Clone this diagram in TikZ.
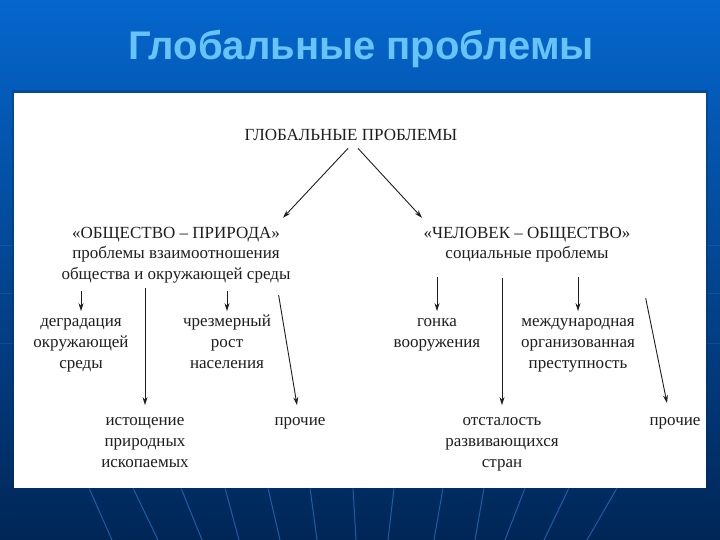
\documentclass[tikz,border=0pt]{standalone}
\usepackage{fontspec}
\setmainfont{Liberation Serif}
\newfontfamily\titlefont{Liberation Sans}
\usetikzlibrary{arrows.meta,calc}
\definecolor{bgtop}{RGB}{5,102,205}
\definecolor{bgmid}{RGB}{2,80,168}
\definecolor{bgbot}{RGB}{0,38,86}
\definecolor{titleblue}{RGB}{104,196,246}
\definecolor{titleshade}{RGB}{0,45,105}
\definecolor{fanline}{RGB}{45,115,195}
\definecolor{ink}{RGB}{30,30,30}
\newcommand{\stk}[1]{\begin{tabular}[t]{@{}c@{}}#1\end{tabular}}
\begin{document}
\begin{tikzpicture}[x=1pt,y=-1pt,
  txt/.style={font=\fontsize{17}{21}\selectfont, text=ink, inner sep=0pt, anchor=base},
  hd/.style={font=\fontsize{17}{20}\selectfont, text=ink, inner sep=0pt, anchor=base},
  arr/.style={draw=ink, line width=0.9pt, -{Stealth[length=8pt,width=5pt]}},
  fan/.style={draw=fanline, line width=1pt, opacity=0.7}]
\useasboundingbox (0,0) rectangle (720,540);
% background
\shade[top color=bgtop, middle color=bgmid, bottom color=bgbot] (0,0) rectangle (720,540);
\foreach \a/\b in {89/112,133/158,181/202,225/239,268/280,310/317,353/356,394/388,443/434,484/475,525/505,569/544,617/587}
  \draw[fan] (\a,488) -- (\b,540);
\foreach \y in {245,293,343}
  \draw[fanline, opacity=0.3, line width=0.8pt] (0,\y) -- (720,\y);
% panel
\fill[titleshade, opacity=0.35] (12,90) rectangle (708,490);
\fill[white] (14,93) rectangle (706,488);
% title
\node[font=\titlefont\bfseries\fontsize{40}{44}\selectfont, text=titleblue, anchor=base] (title) at (361,60) {Глобальные проблемы};
% texts
\node[hd] (top) at (351,141) {ГЛОБАЛЬНЫЕ ПРОБЛЕМЫ};
\node[hd] (lh) at (176,239) {\stk{«ОБЩЕСТВО – ПРИРОДА»\\проблемы взаимоотношения\\общества и окружающей среды}};
\node[hd] (rh) at (527,239) {\stk{«ЧЕЛОВЕК – ОБЩЕСТВО»\\социальные проблемы}};
\node[txt] (deg) at (81,326) {\stk{деградация\\окружающей\\среды}};
\node[txt] (pop) at (227,326) {\stk{чрезмерный\\рост\\населения}};
\node[txt] (arms) at (437,326) {\stk{гонка\\вооружения}};
\node[txt] (crime) at (578,326) {\stk{международная\\организованная\\преступность}};
\node[txt] (res) at (145,425) {\stk{истощение\\природных\\ископаемых}};
\node[txt] (othL) at (300,425) {\stk{прочие}};
\node[txt] (back) at (502,425) {\stk{отсталость\\развивающихся\\стран}};
\node[txt] (othR) at (675,425) {\stk{прочие}};
% connectors
\draw[arr] ($(top.south)+(-3,7)$) -- ($(lh.north)+(107,-7)$);
\draw[arr] ($(top.south)+(7,7)$) -- ($(rh.north)+(-105,-7)$);
\draw[arr] ($(deg.north |- lh.south)+(0,6)$) -- (deg.north);
\draw[arr] ($(pop.north |- lh.south)+(0,6)$) -- (pop.north);
\draw[arr] ($(res.north |- lh.south)+(0,3)$) -- ($(res.north)+(0,-5)$);
\draw[arr] ($(lh.south east)+(-12,10)$) -- ($(othL.north)+(-3,-5)$);
\draw[arr] ($(arms.north |- rh.south)+(0,12)$) -- (arms.north);
\draw[arr] ($(crime.north |- rh.south)+(0,12)$) -- (crime.north);
\draw[arr] ($(back.north |- rh.south)+(0,13)$) -- ($(back.north)+(0,-5)$);
\draw[arr] ($(rh.south east)+(15,33)$) -- ($(othR.north)+(-8,-7)$);
\end{tikzpicture}
\end{document}
